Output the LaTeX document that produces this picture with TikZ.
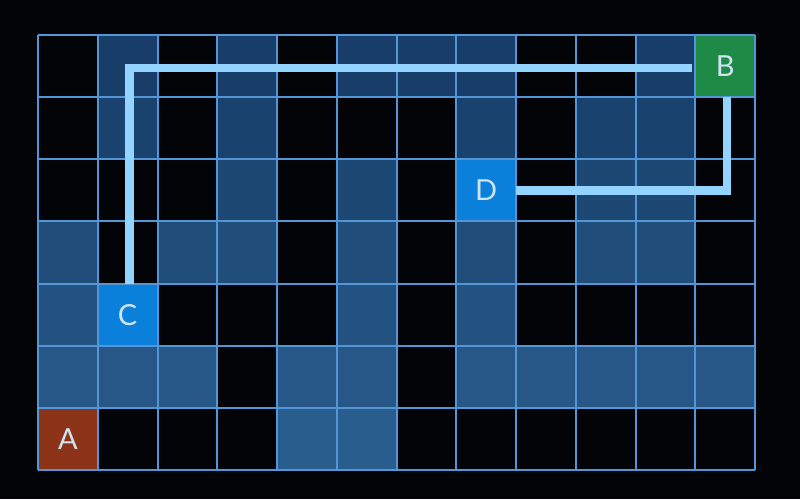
\documentclass[tikz,border=0pt]{standalone}
\usepackage{fontspec}
\setmainfont{Lato}
\usetikzlibrary{calc}
\definecolor{bg}{HTML}{030408}
\definecolor{shadeTop}{HTML}{173D68}
\definecolor{shadeBot}{HTML}{2A5E8E}
\definecolor{gridcol}{HTML}{5296D8}
\definecolor{pathcol}{HTML}{92D3FF}
\definecolor{cellA}{HTML}{8C3418}
\definecolor{cellB}{HTML}{1F8A45}
\definecolor{cellCD}{HTML}{0A80DA}
\definecolor{lettercol}{HTML}{CFE3F2}
\begin{document}
\begin{tikzpicture}[x=1pt,y=-1pt,
  cellbox/.style={minimum width=59.75pt,minimum height=62.14pt,inner sep=0pt,outer sep=0pt,
    text=lettercol,font=\fontsize{29}{29}\selectfont},
  route/.style={draw=pathcol,line width=8.5pt}]
\fill[bg] (0,0) rectangle (800,499);
\useasboundingbox (0,0) rectangle (800,499);
\def\xo{38}\def\yo{35}\def\cw{59.75}\def\ch{62.14}
% shaded cells
\foreach \r/\cols in {0/{1,3,5,6,7,10},1/{1,3,7,9,10},2/{3,5,9,10},3/{0,2,3,5,7,9,10},4/{0,5,7},5/{0,1,2,4,5,7,8,9,10,11},6/{4,5}}{
  \pgfmathtruncatemacro\pct{100-\r*16}
  \foreach \c in \cols {
    \fill[shadeTop!\pct!shadeBot] ({\xo+\c*\cw},{\yo+\r*\ch}) rectangle ++(\cw,\ch);
  }
}
% special cells
\node[cellbox,fill=cellA] (A) at ({\xo+0.5*\cw},{\yo+6.5*\ch}) {A};
\node[cellbox,fill=cellB] (B) at ({\xo+11.5*\cw},{\yo+0.5*\ch}) {B};
\node[cellbox,fill=cellCD] (C) at ({\xo+1.5*\cw},{\yo+4.5*\ch}) {C};
\node[cellbox,fill=cellCD] (D) at ({\xo+7.5*\cw},{\yo+2.5*\ch}) {D};
% grid
\foreach \i in {0,...,12} \draw[gridcol,line width=2pt] ({\xo+\i*\cw},\yo) -- ({\xo+\i*\cw},{\yo+7*\ch});
\foreach \j in {0,...,7} \draw[gridcol,line width=2pt] (\xo,{\yo+\j*\ch}) -- ({\xo+12*\cw},{\yo+\j*\ch});
% routes
\coordinate (cs) at ($(C.north)+(2,0)$);
\coordinate (bs) at ($(B.south)+(2,0)$);
\coordinate (corner) at (cs |- 0,68);
\coordinate (bend) at ($(B.west |- 0,68)+(-3,0)$);
\draw[route] (cs) -- (corner) -- (bend);
\draw[route] (bs) -- (bs |- D.east) -- (D.east);
\end{tikzpicture}
\end{document}
